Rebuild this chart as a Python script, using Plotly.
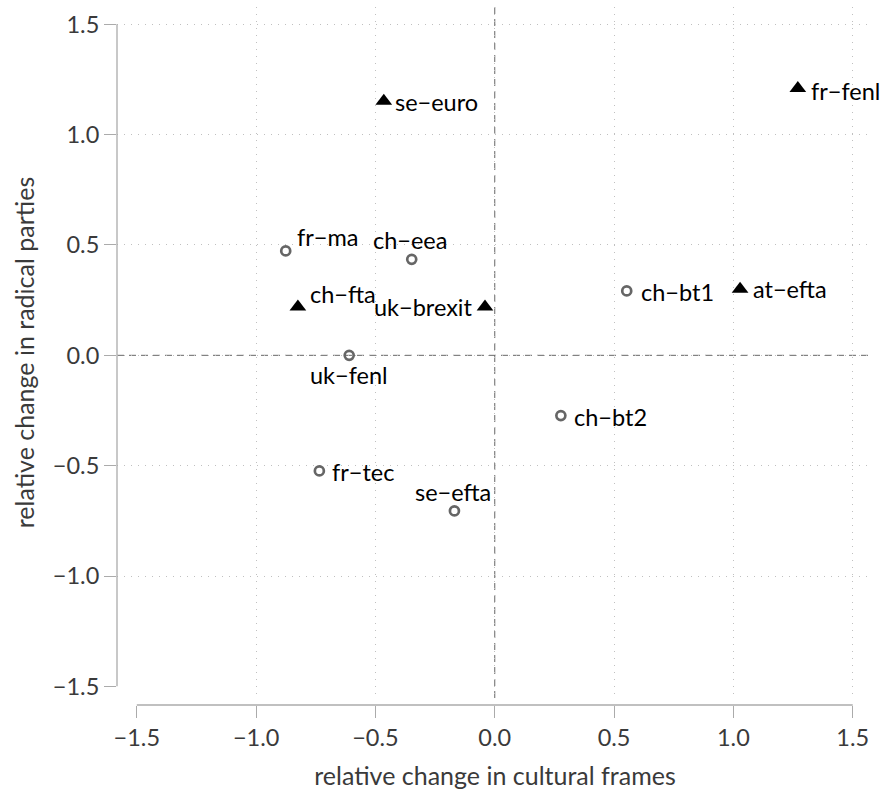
import plotly.graph_objects as go

# Cases: change in cultural framing vs change in radical-party support
labels = ["fr\u2212fenl", "se\u2212euro", "at\u2212efta", "ch\u2212bt1", "fr\u2212ma", "ch\u2212eea",
          "ch\u2212fta", "uk\u2212brexit", "uk\u2212fenl", "ch\u2212bt2", "fr\u2212tec", "se\u2212efta"]
cultural = [1.27, -0.465, 1.028, 0.553, -0.876, -0.348, -0.825, -0.041, -0.610, 0.277, -0.735, -0.169]
radical = [1.21, 1.152, 0.30, 0.292, 0.473, 0.435, 0.22, 0.22, 0.0, -0.273, -0.524, -0.705]
group = ["B", "B", "B", "A", "A", "A", "B", "B", "A", "A", "A", "A"]

tick_vals = [-1.5, -1.0, -0.5, 0.0, 0.5, 1.0, 1.5]
grid_vals = [-1.0, -0.5, 0.0, 0.5, 1.0, 1.5]

x_title = "relative change in cultural frames"
y_title = "relative change in radical parties"

# label placement: (xanchor, xshift, yshift)
label_pos = {
    "fr\u2212fenl": ("left", 11, -3),
    "se\u2212euro": ("left", 9, -1),
    "at\u2212efta": ("left", 11, 0),
    "ch\u2212bt1": ("left", 12, -1),
    "fr\u2212ma": ("left", 9, 14),
    "ch\u2212eea": ("center", -2, 19),
    "ch\u2212fta": ("left", 10, 13),
    "uk\u2212brexit": ("right", -10, 0),
    "uk\u2212fenl": ("center", 0, -20),
    "ch\u2212bt2": ("left", 11, -1),
    "fr\u2212tec": ("left", 11, -1),
    "se\u2212efta": ("center", -1, 19),
}

FONT = "Lato"
FS = 23.5
XR = [-1.583, 1.585]
YR = [-1.5529, 1.5784]

fig = go.Figure()

# reference lines through the origin
fig.add_shape(type="line", xref="x", yref="y domain", x0=0, x1=0, y0=0, y1=1,
              line=dict(color="#666666", width=1, dash="7px,5px"), layer="below")
fig.add_shape(type="line", xref="x domain", yref="y", x0=0, x1=1, y0=0, y1=0,
              line=dict(color="#666666", width=1, dash="7px,5px"), layer="below")

styles = {
    "A": dict(symbol="circle-open", size=9, color="#666666", line=dict(width=2.7, color="#666666")),
    "B": dict(symbol="triangle-up", size=14.5, color="black", line=dict(width=0)),
}
for g in ["A", "B"]:
    xs = [x for x, k in zip(cultural, group) if k == g]
    ys = [y for y, k in zip(radical, group) if k == g]
    fig.add_trace(go.Scatter(x=xs, y=ys, mode="markers", marker=styles[g],
                             showlegend=False, hoverinfo="skip"))

# empty trace so the tick/label axes are rendered
fig.add_trace(go.Scatter(x=[None], y=[None], xaxis="x2", yaxis="y2", mode="markers",
                         showlegend=False, hoverinfo="skip"))

for name, x, y in zip(labels, cultural, radical):
    anchor, dx, dy = label_pos[name]
    fig.add_annotation(x=x, y=y, xref="x", yref="y", text=name, showarrow=False,
                       xanchor=anchor, yanchor="middle", xshift=dx, yshift=dy,
                       font=dict(family=FONT, size=FS, color="black"))

# capped axis lines spanning the tick range
fig.add_shape(type="line", xref="x", yref="paper", x0=min(tick_vals), x1=max(tick_vals), y0=0, y1=0,
              line=dict(color="#ababab", width=1.3))
fig.add_shape(type="line", xref="x domain", yref="y", x0=0, x1=0, y0=min(tick_vals), y1=max(tick_vals),
              line=dict(color="#ababab", width=1.3))

tickfont = dict(family=FONT, size=FS, color="#3a3a3a")
titlefont = dict(family=FONT, size=25, color="#3a3a3a")
grid = dict(showticklabels=False, ticks="", showgrid=True, gridcolor="#c0c0c0", gridwidth=1,
            griddash="1px,6px", zeroline=False, showline=False)
axis_ticks = dict(tickvals=tick_vals, tickformat=".1f", ticks="outside", ticklen=12, tickwidth=1.2,
                  tickcolor="#ababab", showgrid=False, zeroline=False, showline=False, tickfont=tickfont)

fig.update_layout(
    width=880, height=793,
    margin=dict(l=117, r=7, t=7, b=86),
    plot_bgcolor="white", paper_bgcolor="white",
    font=dict(family=FONT),
    # base axes carry the dotted grid
    xaxis=dict(range=XR, anchor="y", tickvals=grid_vals, **grid),
    yaxis=dict(range=YR, domain=[0.01, 1], anchor="x", tickvals=grid_vals, **grid),
    # overlay axes carry ticks, labels and titles
    xaxis2=dict(range=XR, overlaying="x", anchor="free", position=0, **axis_ticks,
                title=dict(text=x_title, font=titlefont, standoff=17)),
    yaxis2=dict(range=YR, domain=[0.01, 1], overlaying="y", anchor="x", side="left", **axis_ticks,
                title=dict(text=y_title, font=titlefont, standoff=11)),
)

fig.write_html("out.html")
